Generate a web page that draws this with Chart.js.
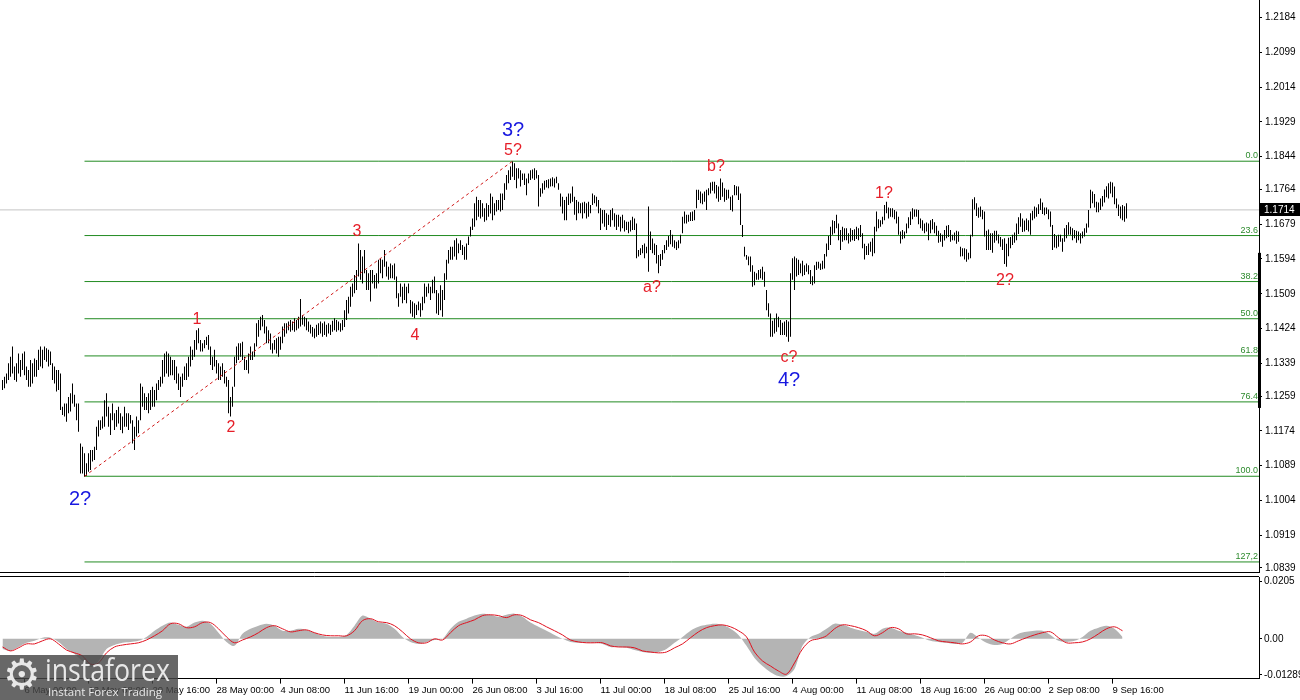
<!DOCTYPE html>
<html>
<head>
<meta charset="utf-8">
<title>EUR/USD H4</title>
<script src="https://cdn.jsdelivr.net/npm/chart.js@4.4.1/dist/chart.umd.min.js"></script>
<style>
	html, body { margin: 0; padding: 0; background: #fff; }
	#wrap { position: relative; width: 1300px; height: 700px; overflow: hidden; background: #fff; }
	#priceChart { position: absolute; left: 0; top: 0; }
	#macdChart { position: absolute; left: 0; top: 574px; }
	#logo { position: absolute; left: 0; top: 655px; width: 178px; height: 45px; background: rgba(70, 70, 70, 0.82); color: #e8e8e8; overflow: hidden; font-family: "Open Sans", "DejaVu Sans", sans-serif; }
	#logo .gear { position: absolute; left: 3px; top: -3px; font-size: 42px; line-height: 46px; font-family: "DejaVu Sans", sans-serif; }
	#logo .brand { position: absolute; left: 45px; top: -6px; font-size: 31px; line-height: 40px; transform: scaleX(0.86); transform-origin: left center; white-space: nowrap; }
	#logo .tag { position: absolute; left: 48px; top: 30px; font-size: 11.5px; line-height: 13px; white-space: nowrap; }
</style>
</head>
<body>
<div id="wrap">
	<canvas id="priceChart" width="1300" height="575"></canvas>
	<canvas id="macdChart" width="1300" height="126"></canvas>
	<div id="logo"><span class="gear">⚙</span><span class="brand">instaforex</span><span class="tag">Instant Forex Trading</span></div>
</div>
<script>
// H4 bars, one per index (high / low)
const barHigh = [
	1.1298,1.1306,1.1314,1.1339,1.1355,1.1380,1.1331,1.1339,1.1363,1.1347,
	1.1363,1.1368,1.1331,1.1323,1.1347,1.1339,1.1351,1.1347,1.1372,1.1380,
	1.1372,1.1380,1.1376,1.1372,1.1368,1.1339,1.1331,1.1323,1.1323,1.1314,
	1.1233,1.1241,1.1241,1.1257,1.1266,1.1290,1.1262,1.1241,1.1241,1.1143,
	1.1135,1.1119,1.1095,1.1119,1.1127,1.1127,1.1135,1.1184,1.1200,1.1200,
	1.1209,1.1249,1.1266,1.1233,1.1217,1.1241,1.1217,1.1225,1.1233,1.1217,
	1.1209,1.1233,1.1217,1.1217,1.1213,1.1200,1.1184,1.1209,1.1200,1.1290,
	1.1282,1.1266,1.1257,1.1266,1.1274,1.1282,1.1274,1.1290,1.1298,1.1306,
	1.1347,1.1363,1.1368,1.1363,1.1355,1.1347,1.1347,1.1331,1.1314,1.1306,
	1.1314,1.1331,1.1339,1.1355,1.1380,1.1372,1.1396,1.1420,1.1425,1.1396,
	1.1388,1.1396,1.1404,1.1408,1.1380,1.1355,1.1372,1.1347,1.1339,1.1331,
	1.1339,1.1323,1.1306,1.1298,1.1257,1.1282,1.1355,1.1380,1.1388,1.1388,
	1.1392,1.1355,1.1347,1.1363,1.1380,1.1368,1.1388,1.1437,1.1445,1.1453,
	1.1457,1.1445,1.1429,1.1420,1.1412,1.1388,1.1396,1.1400,1.1404,1.1404,
	1.1429,1.1437,1.1437,1.1441,1.1445,1.1441,1.1449,1.1445,1.1453,1.1496,
	1.1457,1.1453,1.1449,1.1441,1.1433,1.1428,1.1424,1.1433,1.1437,1.1441,
	1.1437,1.1441,1.1433,1.1437,1.1433,1.1443,1.1449,1.1445,1.1441,1.1437,
	1.1445,1.1469,1.1494,1.1502,1.1526,1.1534,1.1555,1.1567,1.1632,1.1616,
	1.1600,1.1616,1.1567,1.1559,1.1567,1.1567,1.1555,1.1559,1.1592,1.1596,
	1.1592,1.1616,1.1588,1.1575,1.1583,1.1579,1.1583,1.1551,1.1510,1.1534,
	1.1526,1.1534,1.1526,1.1534,1.1494,1.1490,1.1486,1.1482,1.1490,1.1486,
	1.1502,1.1534,1.1526,1.1534,1.1526,1.1543,1.1551,1.1518,1.1510,1.1530,
	1.1518,1.1559,1.1592,1.1616,1.1624,1.1624,1.1640,1.1645,1.1632,1.1640,
	1.1628,1.1624,1.1632,1.1649,1.1673,1.1693,1.1730,1.1746,1.1738,1.1738,
	1.1730,1.1718,1.1730,1.1726,1.1754,1.1746,1.1730,1.1738,1.1738,1.1754,
	1.1754,1.1779,1.1799,1.1811,1.1820,1.1832,1.1828,1.1816,1.1816,1.1811,
	1.1803,1.1803,1.1791,1.1803,1.1811,1.1813,1.1816,1.1811,1.1799,1.1767,
	1.1779,1.1785,1.1787,1.1789,1.1791,1.1794,1.1791,1.1795,1.1779,1.1754,
	1.1746,1.1738,1.1746,1.1754,1.1754,1.1771,1.1746,1.1738,1.1734,1.1730,
	1.1732,1.1734,1.1730,1.1734,1.1726,1.1754,1.1750,1.1746,1.1738,1.1718,
	1.1714,1.1714,1.1706,1.1702,1.1714,1.1718,1.1706,1.1702,1.1702,1.1697,
	1.1702,1.1689,1.1685,1.1685,1.1689,1.1697,1.1693,1.1681,1.1616,1.1620,
	1.1628,1.1632,1.1624,1.1722,1.1661,1.1644,1.1632,1.1628,1.1604,1.1606,
	1.1616,1.1628,1.1640,1.1650,1.1665,1.1653,1.1640,1.1636,1.1640,1.1653,
	1.1697,1.1710,1.1702,1.1702,1.1708,1.1710,1.1714,1.1763,1.1763,1.1759,
	1.1754,1.1759,1.1763,1.1767,1.1781,1.1783,1.1783,1.1775,1.1771,1.1791,
	1.1781,1.1767,1.1763,1.1763,1.1746,1.1750,1.1775,1.1772,1.1771,1.1754,
	1.1677,1.1624,1.1604,1.1600,1.1600,1.1579,1.1563,1.1559,1.1567,1.1569,
	1.1575,1.1563,1.1518,1.1486,1.1461,1.1443,1.1449,1.1461,1.1453,1.1445,
	1.1438,1.1441,1.1445,1.1441,1.1559,1.1596,1.1600,1.1596,1.1592,1.1583,
	1.1590,1.1579,1.1583,1.1579,1.1567,1.1552,1.1579,1.1587,1.1587,1.1583,
	1.1590,1.1606,1.1632,1.1650,1.1673,1.1689,1.1687,1.1702,1.1681,1.1665,
	1.1673,1.1669,1.1669,1.1657,1.1669,1.1665,1.1667,1.1673,1.1669,1.1677,
	1.1657,1.1631,1.1626,1.1632,1.1636,1.1645,1.1673,1.1710,1.1691,1.1689,
	1.1697,1.1726,1.1734,1.1720,1.1718,1.1718,1.1714,1.1710,1.1697,1.1661,
	1.1665,1.1661,1.1681,1.1696,1.1710,1.1718,1.1715,1.1715,1.1714,1.1693,
	1.1689,1.1681,1.1683,1.1681,1.1689,1.1692,1.1684,1.1675,1.1663,1.1657,
	1.1653,1.1665,1.1675,1.1677,1.1665,1.1653,1.1659,1.1663,1.1661,1.1624,
	1.1620,1.1620,1.1618,1.1609,1.1653,1.1740,1.1745,1.1730,1.1720,1.1722,
	1.1714,1.1710,1.1663,1.1666,1.1657,1.1657,1.1663,1.1663,1.1654,1.1648,
	1.1642,1.1645,1.1631,1.1646,1.1648,1.1653,1.1659,1.1681,1.1696,1.1706,
	1.1693,1.1688,1.1693,1.1689,1.1706,1.1712,1.1722,1.1720,1.1728,1.1742,
	1.1732,1.1720,1.1720,1.1715,1.1710,1.1677,1.1655,1.1650,1.1653,1.1653,
	1.1645,1.1669,1.1677,1.1684,1.1673,1.1669,1.1665,1.1663,1.1661,1.1657,
	1.1661,1.1669,1.1681,1.1714,1.1763,1.1759,1.1753,1.1734,1.1732,1.1742,
	1.1748,1.1764,1.1772,1.1779,1.1783,1.1781,1.1771,1.1742,1.1727,1.1722,
	1.1726,1.1723,1.1730
];
const barLow = [
	1.1274,1.1278,1.1290,1.1298,1.1306,1.1314,1.1298,1.1294,1.1314,1.1306,
	1.1323,1.1310,1.1298,1.1282,1.1282,1.1290,1.1306,1.1306,1.1323,1.1331,
	1.1327,1.1347,1.1343,1.1331,1.1335,1.1298,1.1290,1.1270,1.1274,1.1225,
	1.1213,1.1209,1.1196,1.1217,1.1221,1.1241,1.1233,1.1200,1.1172,1.1070,
	1.1070,1.1062,1.1064,1.1074,1.1078,1.1099,1.1103,1.1127,1.1160,1.1176,
	1.1180,1.1184,1.1209,1.1184,1.1164,1.1200,1.1176,1.1184,1.1192,1.1176,
	1.1168,1.1184,1.1184,1.1176,1.1192,1.1143,1.1127,1.1160,1.1168,1.1200,
	1.1233,1.1225,1.1225,1.1217,1.1225,1.1233,1.1233,1.1249,1.1274,1.1282,
	1.1290,1.1306,1.1314,1.1306,1.1310,1.1310,1.1298,1.1290,1.1274,1.1257,
	1.1282,1.1298,1.1298,1.1306,1.1331,1.1347,1.1355,1.1372,1.1388,1.1368,
	1.1368,1.1376,1.1384,1.1372,1.1335,1.1323,1.1331,1.1314,1.1298,1.1298,
	1.1306,1.1290,1.1282,1.1217,1.1209,1.1233,1.1282,1.1339,1.1347,1.1355,
	1.1347,1.1323,1.1323,1.1314,1.1347,1.1347,1.1355,1.1380,1.1404,1.1420,
	1.1429,1.1412,1.1388,1.1388,1.1372,1.1363,1.1372,1.1363,1.1355,1.1372,
	1.1388,1.1404,1.1412,1.1420,1.1416,1.1420,1.1416,1.1420,1.1424,1.1429,
	1.1433,1.1429,1.1420,1.1416,1.1412,1.1404,1.1400,1.1404,1.1408,1.1412,
	1.1404,1.1408,1.1404,1.1412,1.1408,1.1416,1.1420,1.1416,1.1420,1.1416,
	1.1420,1.1428,1.1445,1.1461,1.1477,1.1502,1.1510,1.1518,1.1551,1.1543,
	1.1534,1.1559,1.1518,1.1518,1.1490,1.1534,1.1522,1.1522,1.1534,1.1559,
	1.1547,1.1575,1.1551,1.1543,1.1547,1.1547,1.1543,1.1498,1.1477,1.1502,
	1.1486,1.1494,1.1486,1.1510,1.1461,1.1453,1.1449,1.1457,1.1469,1.1453,
	1.1469,1.1486,1.1502,1.1510,1.1494,1.1510,1.1510,1.1461,1.1457,1.1469,
	1.1453,1.1494,1.1543,1.1583,1.1592,1.1592,1.1600,1.1592,1.1608,1.1616,
	1.1604,1.1592,1.1592,1.1628,1.1649,1.1665,1.1673,1.1689,1.1697,1.1693,
	1.1697,1.1685,1.1689,1.1697,1.1705,1.1689,1.1701,1.1710,1.1714,1.1710,
	1.1714,1.1738,1.1763,1.1779,1.1787,1.1795,1.1787,1.1767,1.1791,1.1771,
	1.1787,1.1775,1.1750,1.1779,1.1787,1.1791,1.1787,1.1791,1.1722,1.1746,
	1.1754,1.1763,1.1769,1.1767,1.1771,1.1772,1.1769,1.1779,1.1763,1.1722,
	1.1705,1.1689,1.1689,1.1726,1.1730,1.1734,1.1702,1.1689,1.1706,1.1706,
	1.1693,1.1706,1.1693,1.1697,1.1706,1.1726,1.1730,1.1722,1.1706,1.1665,
	1.1681,1.1673,1.1665,1.1677,1.1673,1.1689,1.1673,1.1665,1.1673,1.1661,
	1.1669,1.1661,1.1665,1.1657,1.1661,1.1665,1.1665,1.1596,1.1600,1.1604,
	1.1608,1.1596,1.1608,1.1563,1.1616,1.1608,1.1604,1.1583,1.1559,1.1577,
	1.1592,1.1608,1.1616,1.1624,1.1630,1.1624,1.1620,1.1616,1.1620,1.1632,
	1.1657,1.1681,1.1681,1.1685,1.1687,1.1687,1.1689,1.1718,1.1738,1.1730,
	1.1728,1.1734,1.1714,1.1750,1.1754,1.1761,1.1754,1.1742,1.1734,1.1738,
	1.1746,1.1734,1.1738,1.1742,1.1714,1.1710,1.1750,1.1750,1.1738,1.1677,
	1.1648,1.1600,1.1592,1.1579,1.1563,1.1526,1.1530,1.1543,1.1543,1.1547,
	1.1543,1.1526,1.1469,1.1453,1.1404,1.1404,1.1412,1.1416,1.1427,1.1408,
	1.1408,1.1408,1.1404,1.1392,1.1404,1.1543,1.1518,1.1551,1.1555,1.1559,
	1.1552,1.1555,1.1563,1.1557,1.1533,1.1530,1.1534,1.1567,1.1571,1.1567,
	1.1569,1.1571,1.1600,1.1616,1.1628,1.1653,1.1657,1.1669,1.1640,1.1616,
	1.1636,1.1640,1.1640,1.1632,1.1636,1.1640,1.1638,1.1643,1.1640,1.1648,
	1.1620,1.1593,1.1604,1.1604,1.1612,1.1601,1.1608,1.1661,1.1669,1.1673,
	1.1679,1.1689,1.1706,1.1693,1.1697,1.1696,1.1691,1.1681,1.1653,1.1632,
	1.1642,1.1645,1.1657,1.1669,1.1677,1.1691,1.1697,1.1697,1.1679,1.1669,
	1.1663,1.1657,1.1661,1.1640,1.1657,1.1666,1.1657,1.1650,1.1634,1.1636,
	1.1624,1.1639,1.1645,1.1648,1.1636,1.1640,1.1639,1.1631,1.1636,1.1600,
	1.1601,1.1593,1.1587,1.1593,1.1596,1.1649,1.1715,1.1699,1.1695,1.1697,
	1.1691,1.1649,1.1616,1.1616,1.1616,1.1609,1.1634,1.1639,1.1632,1.1624,
	1.1616,1.1582,1.1575,1.1601,1.1620,1.1628,1.1634,1.1640,1.1655,1.1673,
	1.1660,1.1661,1.1665,1.1661,1.1653,1.1689,1.1693,1.1697,1.1704,1.1714,
	1.1704,1.1701,1.1704,1.1691,1.1673,1.1616,1.1622,1.1620,1.1624,1.1636,
	1.1612,1.1636,1.1645,1.1653,1.1653,1.1640,1.1645,1.1634,1.1640,1.1632,
	1.1645,1.1649,1.1658,1.1671,1.1718,1.1730,1.1720,1.1708,1.1708,1.1714,
	1.1722,1.1732,1.1745,1.1742,1.1754,1.1745,1.1728,1.1718,1.1699,1.1693,
	1.1689,1.1685,1.1693
];

// MACD, read every 4th bar
const macdStep = 4;
const macdMain = [
	-0.0036,-0.0043,-0.0029,-0.0014,-0.0007,0.0004,0.0004,-0.0011,-0.0036,-0.0054,
	-0.0079,-0.0101,-0.0079,-0.0036,-0.0022,-0.0014,-0.0011,-0.0007,0.0007,0.0029,
	0.0047,0.0058,0.0050,0.0043,0.0058,0.0065,0.0054,0.0022,-0.0011,-0.0025,
	0.0018,0.0036,0.0047,0.0054,0.0047,0.0029,0.0029,0.0036,0.0032,0.0022,
	0.0011,0.0007,0.0007,0.0014,0.0047,0.0083,0.0072,0.0058,0.0054,0.0036,
	0.0007,-0.0011,-0.0018,-0.0011,-0.0004,0.0000,0.0036,0.0061,0.0072,0.0083,
	0.0090,0.0086,0.0079,0.0086,0.0090,0.0079,0.0058,0.0043,0.0029,0.0014,
	0.0000,-0.0011,-0.0014,-0.0014,-0.0014,-0.0018,-0.0029,-0.0029,-0.0032,-0.0040,
	-0.0047,-0.0050,-0.0047,-0.0036,-0.0014,0.0007,0.0029,0.0043,0.0050,0.0054,
	0.0050,0.0036,0.0014,-0.0025,-0.0068,-0.0097,-0.0119,-0.0133,-0.0133,-0.0108,
	-0.0025,0.0007,0.0018,0.0036,0.0054,0.0050,0.0040,0.0032,0.0025,0.0018,
	0.0036,0.0040,0.0029,0.0022,0.0014,0.0004,-0.0007,-0.0011,-0.0014,-0.0018,
	-0.0014,0.0022,0.0004,-0.0014,-0.0022,-0.0018,0.0000,0.0018,0.0025,0.0029,
	0.0029,0.0014,-0.0007,-0.0011,-0.0007,0.0007,0.0029,0.0040,0.0047,0.0036,
	0.0007
];
const macdSignal = [
	-0.0029,-0.0043,-0.0032,-0.0018,-0.0018,-0.0007,0.0000,-0.0018,-0.0040,-0.0050,
	-0.0061,-0.0090,-0.0086,-0.0050,-0.0029,-0.0022,-0.0018,-0.0014,-0.0004,0.0011,
	0.0029,0.0054,0.0054,0.0040,0.0043,0.0058,0.0058,0.0036,0.0007,-0.0014,
	-0.0004,0.0007,0.0022,0.0040,0.0047,0.0036,0.0025,0.0029,0.0032,0.0022,
	0.0014,0.0011,0.0011,0.0011,0.0029,0.0065,0.0072,0.0061,0.0058,0.0047,
	0.0025,0.0000,-0.0014,-0.0014,0.0000,-0.0004,0.0022,0.0047,0.0058,0.0068,
	0.0083,0.0086,0.0083,0.0076,0.0086,0.0083,0.0068,0.0058,0.0043,0.0029,
	0.0014,-0.0004,-0.0011,-0.0014,-0.0014,-0.0014,-0.0025,-0.0029,-0.0029,-0.0032,
	-0.0043,-0.0047,-0.0050,-0.0047,-0.0032,-0.0018,0.0004,0.0025,0.0040,0.0047,
	0.0050,0.0043,0.0029,0.0007,-0.0047,-0.0079,-0.0097,-0.0115,-0.0126,-0.0086,
	-0.0036,-0.0007,0.0000,0.0011,0.0036,0.0050,0.0047,0.0040,0.0029,0.0011,
	0.0022,0.0040,0.0036,0.0018,0.0018,0.0014,0.0004,-0.0007,-0.0011,-0.0014,
	-0.0018,-0.0011,0.0011,0.0011,-0.0004,-0.0014,-0.0018,-0.0007,0.0004,0.0014,
	0.0022,0.0025,0.0004,-0.0014,-0.0014,-0.0011,0.0000,0.0018,0.0036,0.0043,
	0.0029
];

// axes
const priceTicks = [1.2184, 1.2099, 1.2014, 1.1929, 1.1844, 1.1764, 1.1679, 1.1594, 1.1509,
	1.1424, 1.1339, 1.1259, 1.1174, 1.1089, 1.1004, 1.0919, 1.0839];
const macdTicks = [0.0205, 0, -0.01289];
const macdTickLabels = ["0.0205", "0.00", "-0.01289"];
const timeTickBars = [11, 43, 75, 107, 139, 171, 203, 235, 267, 299, 331, 363, 395, 427, 459, 491, 523, 555];
const timeLabels = ["6 May 00:00", "13 May 08:00", "20 May 16:00", "28 May 00:00", "4 Jun 08:00",
	"11 Jun 16:00", "19 Jun 00:00", "26 Jun 08:00", "3 Jul 16:00", "11 Jul 00:00", "18 Jul 08:00",
	"25 Jul 16:00", "4 Aug 00:00", "11 Aug 08:00", "18 Aug 16:00", "26 Aug 00:00", "2 Sep 08:00", "9 Sep 16:00"];

// fibonacci grid (from the 2? low to the 3? high)
const fibHigh = 1.1833;
const fibLow = 1.1063;
const fibStartBar = 41;
const fibEndBar = 255;
const fibRatios = [0, 23.6, 38.2, 50, 61.8, 76.4, 100, 127.2];
const fibTexts = ["0.0", "23.6", "38.2", "50.0", "61.8", "76.4", "100.0", "127,2"];
const lastPrice = 1.1714;
const axisMarker = [1.1609, 1.1230];

const waveLabels = [
	{ text: "2?", bar: 38.75, price: 1.1007, major: true },
	{ text: "3?", bar: 255.25, price: 1.1909, major: true },
	{ text: "4?", bar: 393.25, price: 1.1296, major: true },
	{ text: "1", bar: 97.25, price: 1.1445 },
	{ text: "2", bar: 114.25, price: 1.1183 },
	{ text: "3", bar: 177.25, price: 1.1662 },
	{ text: "4", bar: 206.25, price: 1.1408 },
	{ text: "5?", bar: 255.25, price: 1.1860 },
	{ text: "a?", bar: 324.75, price: 1.1523 },
	{ text: "b?", bar: 356.75, price: 1.1821 },
	{ text: "c?", bar: 393.25, price: 1.1354 },
	{ text: "1?", bar: 440.75, price: 1.1755 },
	{ text: "2?", bar: 501.25, price: 1.1540 },
];

const X_MIN = -1.25;
const X_MAX = 628.25;
const FONT = "Liberation Sans, Arial, sans-serif";
const GREEN = "#228b22";
const RED_LABEL = "#e61e28";
const BLUE_LABEL = "#1818e0";

const fibPrice = (r) => fibHigh - (r / 100) * (fibHigh - fibLow);

const fibSets = fibRatios.map((r) => ({
	type: "line",
	data: [{ x: fibStartBar, y: fibPrice(r) }, { x: X_MAX, y: fibPrice(r) }],
	borderColor: GREEN,
	borderWidth: 1,
	pointRadius: 0,
	order: 3,
}));

const priceOverlay = {
	id: "priceOverlay",
	afterDatasetsDraw(chart) {
		const { ctx, chartArea, scales } = chart;
		const x = scales.x;
		const y = scales.y;
		ctx.save();
		// fib level captions
		ctx.font = "9px " + FONT;
		ctx.fillStyle = "#2e8b2e";
		ctx.textAlign = "right";
		ctx.textBaseline = "bottom";
		fibRatios.forEach((r, n) => {
			ctx.fillText(fibTexts[n], chartArea.right - 1, y.getPixelForValue(fibPrice(r)) - 1);
		});
		// wave counts
		ctx.textAlign = "center";
		ctx.textBaseline = "middle";
		waveLabels.forEach((w) => {
			ctx.font = (w.major ? "20px " : "16px ") + FONT;
			ctx.fillStyle = w.major ? BLUE_LABEL : RED_LABEL;
			ctx.fillText(w.text, x.getPixelForValue(w.bar), y.getPixelForValue(w.price));
		});
		// bottom frame
		ctx.strokeStyle = "#000";
		ctx.lineWidth = 1;
		ctx.beginPath();
		const b = Math.round(chartArea.bottom) + 0.5;
		ctx.moveTo(0, b);
		ctx.lineTo(chartArea.right, b);
		ctx.stroke();
		ctx.restore();
	},
	afterDraw(chart) {
		const { ctx, chartArea, scales } = chart;
		const y = scales.y;
		ctx.save();
		// marker on the price axis
		const m1 = y.getPixelForValue(axisMarker[0]);
		const m2 = y.getPixelForValue(axisMarker[1]);
		ctx.fillStyle = "#000";
		ctx.fillRect(chartArea.right - 1, m1, 3, m2 - m1);
		// last price tag
		const py = Math.round(y.getPixelForValue(lastPrice));
		ctx.fillRect(chartArea.right + 1, py - 7, 40, 13);
		ctx.fillStyle = "#fff";
		ctx.font = "10px " + FONT;
		ctx.textAlign = "left";
		ctx.textBaseline = "middle";
		ctx.fillText(lastPrice.toFixed(4), chartArea.right + 5, py);
		ctx.restore();
	},
};

new Chart(document.getElementById("priceChart"), {
	type: "bar",
	data: {
		datasets: [
			{
				type: "bar",
				data: barHigh.map((h, i) => ({ x: i, y: [barLow[i], h] })),
				backgroundColor: "#000",
				borderWidth: 0,
				barThickness: 1,
				inflateAmount: 0,
				grouped: false,
				order: 1,
			},
			...fibSets,
			{
				type: "line",
				data: [{ x: X_MIN, y: lastPrice }, { x: X_MAX, y: lastPrice }],
				borderColor: "#c4c4c4",
				borderWidth: 1,
				pointRadius: 0,
				order: 4,
			},
			{
				type: "line",
				data: [{ x: fibStartBar, y: fibLow }, { x: fibEndBar, y: fibHigh }],
				borderColor: "#d01818",
				borderWidth: 1,
				borderDash: [3, 3],
				pointRadius: 0,
				order: 0,
			},
		],
	},
	options: {
		responsive: false,
		animation: false,
		devicePixelRatio: 1,
		events: [],
		layout: { padding: { top: 0, bottom: 3, left: 0, right: 0 } },
		plugins: { legend: { display: false }, tooltip: { enabled: false } },
		scales: {
			x: { type: "linear", min: X_MIN, max: X_MAX, offset: false, display: false },
			y: {
				type: "linear",
				position: "right",
				min: 1.0829,
				max: 1.2227,
				afterFit(s) {
					s.width = 41;
					s.paddingTop = 0;
					s.paddingBottom = 0;
				},
				afterBuildTicks(s) {
					s.ticks = priceTicks.map((v) => ({ value: v }));
				},
				ticks: {
					autoSkip: false,
					padding: 3,
					color: "#000",
					font: { family: FONT, size: 10 },
					callback: (v) => Number(v).toFixed(4),
				},
				grid: { drawOnChartArea: false, tickLength: 3, color: "#000" },
				border: { display: true, color: "#000" },
			},
		},
	},
	plugins: [priceOverlay],
});

const macdFrame = {
	id: "macdFrame",
	afterDraw(chart) {
		const { ctx, chartArea } = chart;
		ctx.save();
		ctx.strokeStyle = "#000";
		ctx.lineWidth = 1;
		ctx.beginPath();
		const t = Math.round(chartArea.top) - 0.5;
		ctx.moveTo(0, t);
		ctx.lineTo(chartArea.right, t);
		ctx.stroke();
		ctx.restore();
	},
};

new Chart(document.getElementById("macdChart"), {
	type: "line",
	data: {
		datasets: [
			{
				data: macdMain.map((v, k) => ({ x: k * macdStep, y: v })),
				fill: "origin",
				backgroundColor: "#b4b4b4",
				borderWidth: 0,
				pointRadius: 0,
				tension: 0.3,
				order: 2,
			},
			{
				data: macdSignal.map((v, k) => ({ x: k * macdStep, y: v })),
				fill: false,
				borderColor: "#e0101e",
				borderWidth: 1,
				pointRadius: 0,
				tension: 0.35,
				order: 1,
			},
		],
	},
	options: {
		responsive: false,
		animation: false,
		devicePixelRatio: 1,
		events: [],
		layout: { padding: { top: 3, bottom: 3, left: 0, right: 0 } },
		plugins: { legend: { display: false }, tooltip: { enabled: false } },
		scales: {
			x: {
				type: "linear",
				min: X_MIN,
				max: X_MAX,
				offset: false,
				afterFit(s) {
					s.paddingLeft = 0;
					s.paddingRight = 0;
				},
				afterBuildTicks(s) {
					s.ticks = timeTickBars.map((v) => ({ value: v }));
				},
				ticks: {
					autoSkip: false,
					maxRotation: 0,
					minRotation: 0,
					align: "start",
					padding: 1,
					color: "#000",
					font: { family: FONT, size: 9.5 },
					callback: (v, i) => timeLabels[i],
				},
				grid: { drawOnChartArea: false, tickLength: 5, color: "#000" },
				border: { display: true, color: "#000" },
			},
			y: {
				type: "linear",
				position: "right",
				min: -0.0142,
				max: 0.0221,
				afterFit(s) {
					s.width = 41;
					s.paddingTop = 0;
					s.paddingBottom = 0;
				},
				afterBuildTicks(s) {
					s.ticks = macdTicks.map((v) => ({ value: v }));
				},
				ticks: {
					autoSkip: false,
					padding: 2,
					color: "#000",
					font: { family: FONT, size: 10 },
					callback: (v, i) => macdTickLabels[i],
				},
				grid: { drawOnChartArea: false, tickLength: 3, color: "#000" },
				border: { display: true, color: "#000" },
			},
		},
	},
	plugins: [macdFrame],
});
</script>
</body>
</html>
